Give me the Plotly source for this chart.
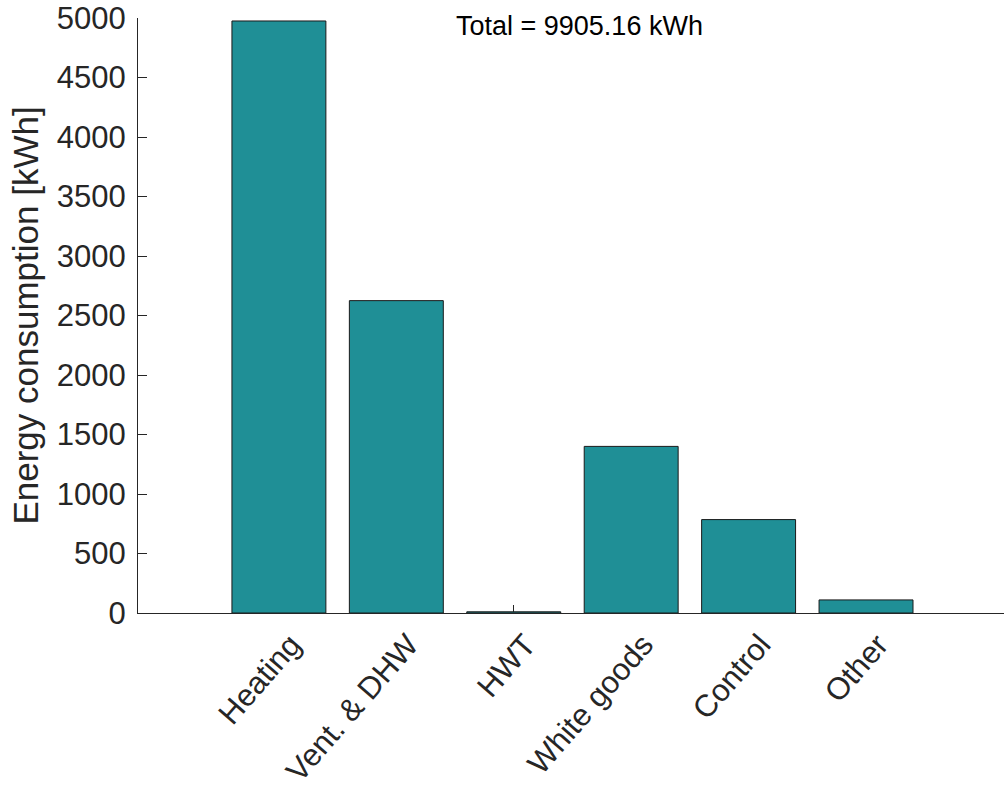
import plotly.graph_objects as go

categories = ["Heating", "Vent. & DHW", "HWT", "White goods", "Control", "Other"]
values = [4975, 2625, 10, 1400, 785, 110]
y_ticks = [0, 500, 1000, 1500, 2000, 2500, 3000, 3500, 4000, 4500, 5000]
total_label = "Total = 9905.16 kWh"

positions = list(range(len(categories)))

fig = go.Figure(
    go.Bar(
        x=positions,
        y=values,
        width=0.8,
        marker=dict(color="#1f8f96", line=dict(color="#1a1a1a", width=1)),
    )
)

axis_color = "#262626"
font_family = "Liberation Sans, Arial, sans-serif"

fig.update_layout(
    width=1005,
    height=789,
    margin=dict(l=138, r=1, t=18, b=176, autoexpand=False),
    plot_bgcolor="white",
    paper_bgcolor="white",
    showlegend=False,
    font=dict(family=font_family, color=axis_color),
    xaxis=dict(
        range=[-1.2, 6.175],
        tickmode="array",
        tickvals=positions,
        ticktext=categories,
        tickangle=-49,
        ticks="inside",
        ticklen=8,
        tickcolor=axis_color,
        showline=True,
        linecolor=axis_color,
        linewidth=1,
        showgrid=False,
        zeroline=False,
        layer="below traces",
        automargin=False,
        ticklabelshift=12,
        tickfont=dict(size=31, color=axis_color),
    ),
    yaxis=dict(
        range=[0, 5000],
        tickmode="array",
        tickvals=y_ticks,
        ticks="inside",
        ticklen=9,
        tickcolor=axis_color,
        showline=True,
        linecolor=axis_color,
        linewidth=1,
        showgrid=False,
        zeroline=False,
        layer="below traces",
        automargin=False,
        ticklabeloverflow="allow",
        tickfont=dict(size=31, color=axis_color),
        ticklabelstandoff=5,
        title=dict(text="Energy consumption [kWh]", font=dict(size=35, color=axis_color), standoff=7),
    ),
    annotations=[
        dict(
            text=total_label,
            x=0.51,
            y=1.0,
            xref="paper",
            yref="paper",
            xanchor="center",
            yanchor="top",
            yshift=9,
            showarrow=False,
            font=dict(size=27, color="black", family=font_family),
        )
    ],
)

fig.write_html(
    "out.html",
    config={"displayModeBar": False},
    post_script="document.body.style.margin='0px';",
)
